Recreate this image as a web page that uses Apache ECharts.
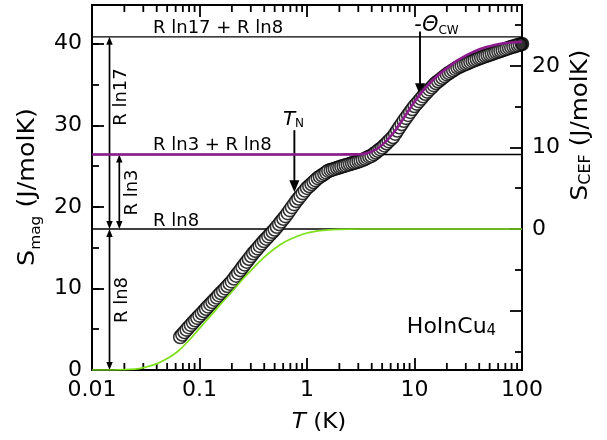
<!DOCTYPE html>
<html>
<head>
<meta charset="utf-8">
<script src="https://cdn.jsdelivr.net/npm/echarts@6/dist/echarts.min.js"></script>
<style>
  html, body { margin: 0; padding: 0; background: #fff; }
  #chart { width: 607px; height: 440px; }
</style>
</head>
<body>
<div id="chart"></div>
<script>
// Magnetic entropy of HoInCu4 versus temperature (log scale)
const R = 8.314;
const RLN3 = R * Math.log(3);
const RLN8 = R * Math.log(8);
const RLN17 = R * Math.log(17);

// Measured S_mag (J/molK) at temperature T (K)
const tempK = [0.0661,0.0692,0.0724,0.0759,0.0794,0.0832,0.0871,0.0912,0.0955,
  0.100,0.105,0.110,0.115,0.120,0.126,0.132,0.138,0.145,0.151,
  0.158,0.166,0.174,0.182,0.191,0.200,0.209,0.219,0.229,0.240,
  0.251,0.263,0.275,0.288,0.302,0.316,0.331,0.347,0.363,0.380,
  0.398,0.417,0.437,0.457,0.479,0.501,0.525,0.550,0.575,0.603,
  0.631,0.661,0.692,0.724,0.759,0.794,0.832,0.871,0.912,0.955,
  1.00,1.05,1.10,1.15,1.20,1.26,1.32,1.38,1.45,1.51,
  1.58,1.66,1.74,1.82,1.91,2.00,2.09,2.19,2.29,2.40,
  2.51,2.63,2.75,2.88,3.02,3.16,3.31,3.47,3.63,3.80,
  3.98,4.17,4.37,4.57,4.79,5.01,5.25,5.50,5.75,6.03,
  6.31,6.61,6.92,7.24,7.59,7.94,8.32,8.71,9.12,9.55,
  10.0,10.5,11.0,11.5,12.0,12.6,13.2,13.8,14.5,15.1,
  15.8,16.6,17.4,18.2,19.1,20.0,20.9,21.9,22.9,24.0,
  25.1,26.3,27.5,28.8,30.2,31.6,33.1,34.7,36.3,38.0,
  39.8,41.7,43.7,45.7,47.9,50.1,52.5,55.0,57.5,60.3,
  63.1,66.1,69.2,72.4,75.9,79.4,83.2,87.1,91.2,95.5,
  100];
const sMag = [4.05,4.35,4.65,4.95,5.25,5.53,5.82,6.10,6.39,
  6.67,6.95,7.23,7.51,7.79,8.07,8.34,8.62,8.89,9.17,
  9.44,9.72,10.01,10.29,10.58,10.86,11.21,11.56,11.90,12.25,
  12.60,12.94,13.28,13.63,13.97,14.31,14.61,14.91,15.22,15.52,
  15.82,16.10,16.38,16.67,16.95,17.23,17.56,17.89,18.21,18.54,
  18.86,19.23,19.60,19.97,20.34,20.71,21.03,21.35,21.68,22.00,
  22.32,22.56,22.80,23.04,23.28,23.52,23.70,23.88,24.05,24.23,
  24.41,24.50,24.59,24.68,24.77,24.86,24.94,25.02,25.09,25.17,
  25.25,25.33,25.41,25.50,25.58,25.66,25.78,25.90,26.03,26.15,
  26.27,26.47,26.67,26.87,27.07,27.27,27.53,27.79,28.05,28.31,
  28.57,28.97,29.36,29.76,30.15,30.55,30.91,31.27,31.64,32.00,
  32.36,32.66,32.96,33.27,33.57,33.87,34.13,34.40,34.66,34.93,
  35.19,35.40,35.61,35.82,36.03,36.24,36.41,36.58,36.75,36.92,
  37.09,37.21,37.32,37.44,37.55,37.67,37.78,37.89,37.99,38.10,
  38.21,38.30,38.39,38.49,38.58,38.67,38.76,38.85,38.95,39.04,
  39.13,39.22,39.31,39.40,39.49,39.58,39.66,39.74,39.81,39.89,
  39.97];

// Crystal-field entropy added on top of R ln3 + R ln8 (purple)
const cefT = [0.01, 1.00, 2.00, 3.16, 3.98, 5.01, 6.31, 7.94, 10.0, 12.6, 15.8, 20.0, 25.1, 31.6, 39.8, 50.1, 63.1, 79.4, 100];
const cefS = [26.42, 26.42, 26.43, 26.46, 26.75, 27.6, 29.0, 30.9, 32.9, 34.6, 35.9, 37.0, 37.95, 38.7, 39.3, 39.7, 40.0, 40.15, 40.25];

// Ground-state entropy rising to R ln8 (green)
const gsT = [0.01, 0.0158, 0.0251, 0.0316, 0.0398, 0.0501, 0.0631, 0.0794, 0.100, 0.126, 0.158,
  0.200, 0.251, 0.316, 0.398, 0.501, 0.631, 0.794, 1.00, 1.26, 1.58, 2.00, 3.16, 100];
const gsS = [0, 0, 0.1, 0.35, 0.75, 1.4, 2.3, 3.6, 5.1, 6.6, 8.1,
  9.6, 11.1, 12.5, 13.8, 14.9, 15.75, 16.35, 16.8, 17.05, 17.19, 17.25, 17.285, 17.29];

// Entropy levels drawn as horizontal lines
const entropyLevels = [RLN8, RLN3 + RLN8, RLN17 + RLN8];
// Double-headed span arrows: [T, S bottom, S top]
const spanArrows = [[0.01455, RLN8, RLN17 + RLN8], [0.01795, RLN8, RLN3 + RLN8], [0.01455, 0, RLN8]];
// Pointer arrows: [T, S start, S tip]  (T_N and -Theta_CW)
const pointerArrows = [[0.763, 29.4, 21.8], [11.25, 41.5, 33.7]];

// Axis ranges and ticks
const X_MIN = 0.01, X_MAX = 100;
const Y_MAX = 44.75;
const xMinorTicks = [0.02,0.03,0.04,0.05,0.06,0.07,0.08,0.09,
  0.2,0.3,0.4,0.5,0.6,0.7,0.8,0.9, 2,3,4,5,6,7,8,9, 20,30,40,50,60,70,80,90];
const rightMajorTicks = [-10, 0, 10, 20];
const rightMinorTicks = [-15, -5, 5, 15, 25];
const rightLabels = [0, 10, 20];

const FONT = 'DejaVu Sans';
const INK = '#000';
const AXIS_LINE = { color: INK, width: 2 };
const TICK_LINE = { color: INK, width: 1.8 };
const TICK_LABEL = { color: INK, fontSize: 22, fontFamily: FONT };

const chart = echarts.init(document.getElementById('chart'), null, { renderer: 'canvas' });

function multipleOfTen(v) { return Math.abs(v / 10 - Math.round(v / 10)) < 1e-6; }

function vArrowHead(tip, dir, len, half) {
  // dir = -1 points up, +1 points down
  return {
    type: 'polygon',
    shape: { points: [[tip[0], tip[1]], [tip[0] - half, tip[1] - dir * len], [tip[0] + half, tip[1] - dir * len]] },
    style: { fill: INK }
  };
}

function txt(x, y, text, extra) {
  return Object.assign({
    type: 'text', x: x, y: y, silent: true,
    style: Object.assign({ text: text, fill: INK, font: '18px "' + FONT + '"', align: 'left', verticalAlign: 'middle' }, extra && extra.style)
  }, extra && extra.el);
}

const scatterData = tempK.map((t, i) => {
  const item = { value: [t, sMag[i]] };
  if (i === tempK.length - 1) item.itemStyle = { color: INK };
  return item;
});

const option = {
  animation: false,
  backgroundColor: '#fff',
  grid: { left: 92, right: 85, top: 5, bottom: 70, containLabel: false, outerBoundsMode: 'none' },
  xAxis: [
    {
      type: 'log', logBase: 10, min: X_MIN, max: X_MAX, position: 'bottom',
      axisLine: { show: true, onZero: false, lineStyle: AXIS_LINE },
      axisTick: { show: true, inside: true, length: 12, lineStyle: TICK_LINE },
      axisLabel: Object.assign({ margin: 9, formatter: v => String(+(+v).toPrecision(3)) }, TICK_LABEL),
      splitLine: { show: false }, minorTick: { show: false }
    },
    {
      type: 'log', logBase: 10, min: X_MIN, max: X_MAX, position: 'top',
      axisLine: { show: true, onZero: false, lineStyle: AXIS_LINE },
      axisTick: { show: true, inside: true, length: 12, lineStyle: TICK_LINE },
      axisLabel: { show: false }, splitLine: { show: false }
    }
  ],
  yAxis: [
    {
      type: 'value', position: 'left', min: 0, max: Y_MAX, interval: 10,
      axisLine: { show: true, onZero: false, lineStyle: AXIS_LINE },
      axisTick: { show: true, inside: true, length: 12, lineStyle: TICK_LINE },
      axisLabel: Object.assign({ margin: 10, formatter: v => multipleOfTen(v) ? String(Math.round(v)) : '' }, TICK_LABEL),
      splitLine: { show: false }
    },
    {
      type: 'value', position: 'left', min: 0, max: Y_MAX, interval: 5,
      axisLine: { show: false, onZero: false },
      axisTick: { show: true, inside: true, length: 7, lineStyle: TICK_LINE },
      axisLabel: { show: false }, splitLine: { show: false }
    },
    {
      type: 'value', position: 'right', min: -RLN8, max: Y_MAX - RLN8,
      axisLine: { show: true, onZero: false, lineStyle: AXIS_LINE },
      axisTick: { show: true, inside: true, length: 12, lineStyle: TICK_LINE, customValues: rightMajorTicks },
      axisLabel: Object.assign({ margin: 10, customValues: rightLabels }, TICK_LABEL),
      splitLine: { show: false }
    },
    {
      type: 'value', position: 'right', min: -RLN8, max: Y_MAX - RLN8,
      axisLine: { show: false, onZero: false },
      axisTick: { show: true, inside: true, length: 7, lineStyle: TICK_LINE, customValues: rightMinorTicks },
      axisLabel: { show: false }, splitLine: { show: false }
    }
  ],
  series: [
    {
      name: 'levels', type: 'custom', xAxisIndex: 0, yAxisIndex: 0, silent: true,
      data: entropyLevels.map(v => [X_MIN, v]),
      renderItem: (params, api) => {
        const p = api.coord([api.value(0), api.value(1)]);
        const cs = params.coordSys;
        return { type: 'line', shape: { x1: cs.x, y1: p[1], x2: cs.x + cs.width, y2: p[1] }, style: { stroke: INK, lineWidth: 1.3 } };
      }
    },
    {
      name: 'ground state', type: 'line', xAxisIndex: 0, yAxisIndex: 0,
      data: gsT.map((t, i) => [t, gsS[i]]),
      smooth: 0.4, showSymbol: false, silent: true,
      lineStyle: { color: '#7ee01a', width: 1.7 }
    },
    {
      name: 'S_mag', type: 'scatter', xAxisIndex: 0, yAxisIndex: 0,
      data: scatterData, symbol: 'circle', symbolSize: 13, silent: true,
      itemStyle: { color: '#fff', borderColor: INK, borderWidth: 1.6 }
    },
    {
      name: 'CEF', type: 'line', xAxisIndex: 0, yAxisIndex: 0,
      data: cefT.map((t, i) => [t, cefS[i]]),
      smooth: 0.4, showSymbol: false, silent: true,
      lineStyle: { color: '#8c1b8c', width: 2.6 }
    },
    {
      name: 'span arrows', type: 'custom', xAxisIndex: 0, yAxisIndex: 0, silent: true, clip: false,
      data: spanArrows,
      renderItem: (params, api) => {
        const lo = api.coord([api.value(0), api.value(1)]);
        const hi = api.coord([api.value(0), api.value(2)]);
        return {
          type: 'group', children: [
            { type: 'line', shape: { x1: lo[0], y1: lo[1] - 4, x2: hi[0], y2: hi[1] + 4 }, style: { stroke: INK, lineWidth: 1.7 } },
            vArrowHead(hi, -1, 8, 3.2),
            vArrowHead(lo, 1, 8, 3.2)
          ]
        };
      }
    },
    {
      name: 'pointer arrows', type: 'custom', xAxisIndex: 0, yAxisIndex: 0, silent: true, clip: false,
      data: pointerArrows,
      renderItem: (params, api) => {
        const from = api.coord([api.value(0), api.value(1)]);
        const tip = api.coord([api.value(0), api.value(2)]);
        return {
          type: 'group', children: [
            { type: 'line', shape: { x1: from[0], y1: from[1], x2: tip[0], y2: tip[1] - 6 }, style: { stroke: INK, lineWidth: 1.9 } },
            vArrowHead(tip, 1, 12, 5)
          ]
        };
      }
    },
    {
      name: 'minor x ticks', type: 'custom', xAxisIndex: 0, yAxisIndex: 0, silent: true, clip: false,
      data: xMinorTicks.map(v => [v, 0]),
      renderItem: (params, api) => {
        const p = api.coord([api.value(0), 0]);
        const cs = params.coordSys;
        const bottom = cs.y + cs.height, top = cs.y;
        return {
          type: 'group', children: [
            { type: 'line', shape: { x1: p[0], y1: bottom, x2: p[0], y2: bottom - 7 }, style: { stroke: INK, lineWidth: 1.8 } },
            { type: 'line', shape: { x1: p[0], y1: top, x2: p[0], y2: top + 7 }, style: { stroke: INK, lineWidth: 1.8 } }
          ]
        };
      }
    }
  ],
  graphic: [
    // axis titles
    {
      type: 'text', x: 28, y: 187, rotation: Math.PI / 2, scaleX: 1.1, silent: true,
      style: {
        text: '{m|S}{s|mag}{m| (J/molK)}', align: 'center', verticalAlign: 'middle',
        rich: {
          m: { fontSize: 23, lineHeight: 30, fontFamily: FONT, fill: INK },
          s: { fontSize: 14, verticalAlign: 'bottom', fontFamily: FONT, fill: INK }
        }
      }
    },
    {
      type: 'text', x: 581, y: 125, rotation: Math.PI / 2, scaleX: 1.07, silent: true,
      style: {
        text: '{m|S}{s|CEF}{m| (J/molK)}', align: 'center', verticalAlign: 'middle',
        rich: {
          m: { fontSize: 23, lineHeight: 26, fontFamily: FONT, fill: INK },
          s: { fontSize: 15, verticalAlign: 'bottom', fontFamily: FONT, fill: INK }
        }
      }
    },
    {
      type: 'text', x: 319, y: 422, silent: true, scaleX: 1.05,
      style: {
        text: '{t|T}{m| (K)}', align: 'center', verticalAlign: 'middle',
        rich: {
          t: { fontSize: 22, fontStyle: 'italic', fontFamily: FONT, fill: INK },
          m: { fontSize: 22, fontFamily: FONT, fill: INK }
        }
      }
    },
    // level labels
    txt(153, 28.5, 'R ln17 + R ln8'),
    txt(153, 145, 'R ln3 + R ln8'),
    txt(153, 221.5, 'R ln8'),
    txt(121, 97, 'R ln17', { el: { rotation: Math.PI / 2 }, style: { align: 'center' } }),
    txt(132.5, 192.5, 'R ln3', { el: { rotation: Math.PI / 2 }, style: { align: 'center' } }),
    txt(122.5, 300, 'R ln8', { el: { rotation: Math.PI / 2 }, style: { align: 'center' } }),
    // T_N and -Theta_CW
    {
      type: 'text', x: 293.5, y: 120, silent: true,
      style: {
        text: '{t|T}{n|N}', align: 'center', verticalAlign: 'middle',
        rich: {
          t: { fontSize: 20, fontStyle: 'italic', fontFamily: FONT, fill: INK },
          n: { fontSize: 12, verticalAlign: 'bottom', fontFamily: FONT, fill: INK }
        }
      }
    },
    {
      type: 'text', x: 436.5, y: 26, silent: true,
      style: {
        text: '{m|-}{t|Θ}{n|CW}', align: 'center', verticalAlign: 'middle',
        rich: {
          m: { fontSize: 21, fontFamily: FONT, fill: INK },
          t: { fontSize: 21, fontStyle: 'italic', fontFamily: FONT, fill: INK },
          n: { fontSize: 12, verticalAlign: 'bottom', fontFamily: FONT, fill: INK }
        }
      }
    },
    {
      type: 'text', x: 451.5, y: 327, silent: true,
      style: {
        text: '{m|HoInCu}{n|4}', align: 'center', verticalAlign: 'middle',
        rich: {
          m: { fontSize: 22, lineHeight: 24, fontFamily: FONT, fill: INK },
          n: { fontSize: 15, verticalAlign: 'bottom', fontFamily: FONT, fill: INK }
        }
      }
    }
  ]
};

chart.setOption(option);
</script>
</body>
</html>
